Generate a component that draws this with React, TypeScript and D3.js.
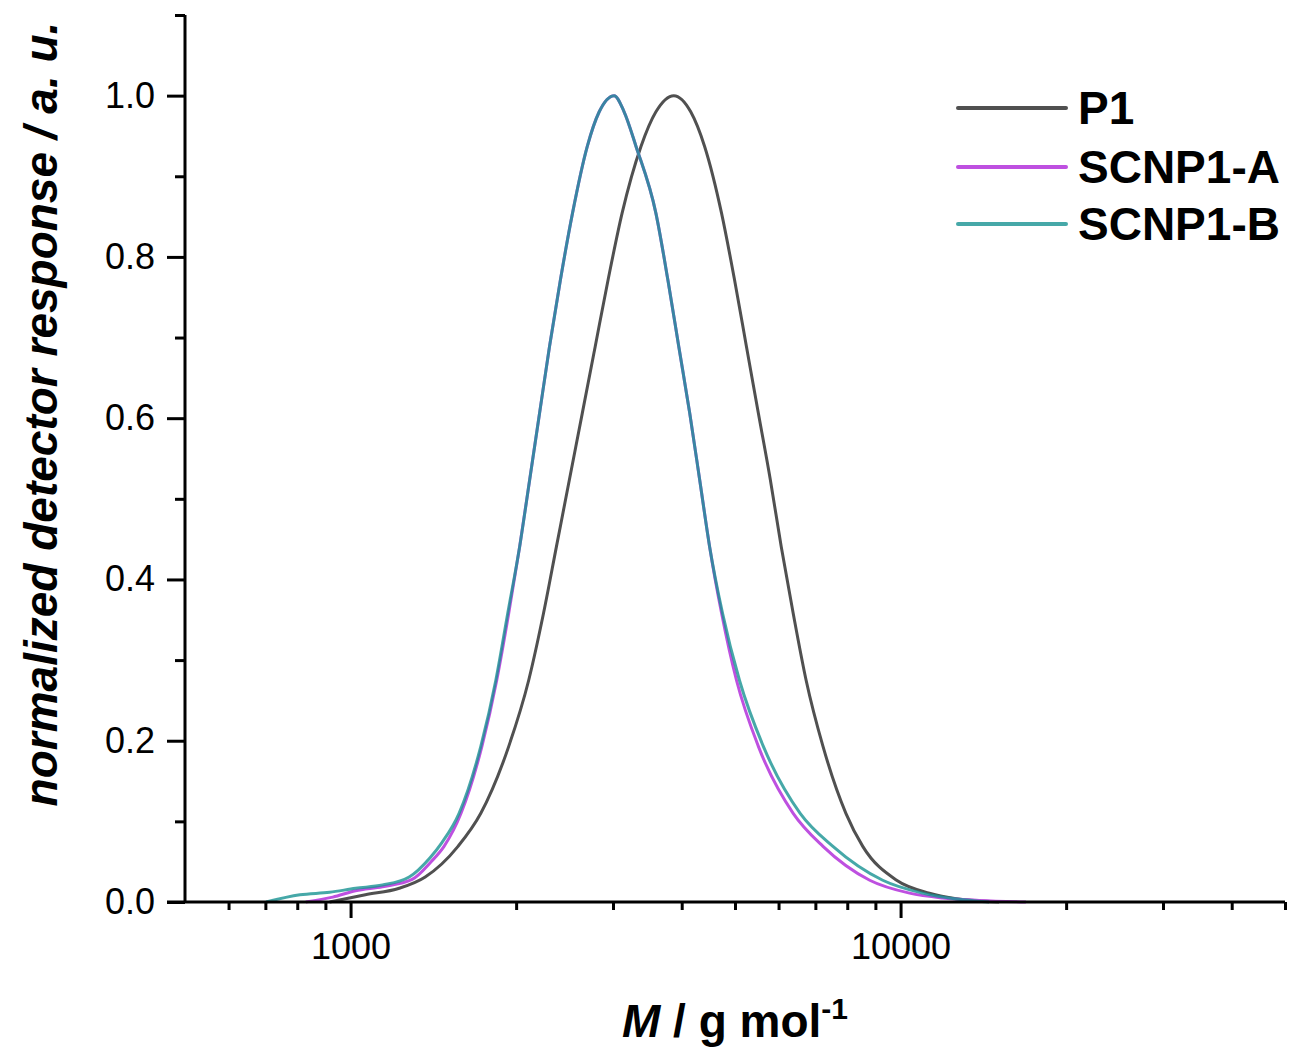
import React, { useEffect, useRef } from 'react';
import * as d3 from 'd3';

// molar mass (g/mol) and normalized detector response
const P1_M = [916, 1064, 1226, 1367, 1568, 1725, 1939, 2108, 2243, 2368, 2500, 2638, 2785, 2940, 3116, 3373, 3591, 3870, 4154, 4403, 4727, 4989, 5245, 5514, 5796, 6067, 6379, 6734, 7227, 7954, 8536, 9835, 11283, 12627, 15101];
const P1_Y = [0, 0.009, 0.017, 0.031, 0.069, 0.11, 0.193, 0.275, 0.358, 0.441, 0.524, 0.606, 0.689, 0.772, 0.854, 0.937, 0.98, 1.0, 0.98, 0.937, 0.854, 0.772, 0.689, 0.606, 0.524, 0.441, 0.358, 0.275, 0.193, 0.11, 0.069, 0.027, 0.011, 0.004, 0];

const A_M = [829, 928, 1021, 1143, 1294, 1401, 1479, 1588, 1733, 1844, 1939, 2030, 2117, 2206, 2300, 2408, 2532, 2694, 2832, 3015, 3143, 3304, 3591, 3774, 3951, 4137, 4312, 4495, 4727, 5031, 5514, 6379, 7227, 8788, 10382, 11910, 13895, 16900];
const A_Y = [0, 0.006, 0.014, 0.019, 0.028, 0.05, 0.069, 0.11, 0.193, 0.275, 0.358, 0.441, 0.524, 0.606, 0.689, 0.772, 0.854, 0.937, 0.98, 1.0, 0.98, 0.937, 0.854, 0.772, 0.689, 0.606, 0.524, 0.441, 0.358, 0.275, 0.193, 0.11, 0.069, 0.027, 0.011, 0.005, 0.002, 0];

const B_M = [702, 809, 916, 1021, 1143, 1278, 1395, 1467, 1575, 1725, 1837, 1931, 2030, 2117, 2206, 2300, 2408, 2532, 2694, 2832, 3015, 3143, 3304, 3591, 3774, 3951, 4137, 4312, 4495, 4746, 5094, 5630, 6568, 7534, 9279, 10960, 12522, 14486];
const B_Y = [0, 0.009, 0.012, 0.017, 0.021, 0.031, 0.055, 0.074, 0.11, 0.193, 0.275, 0.358, 0.441, 0.524, 0.606, 0.689, 0.772, 0.854, 0.937, 0.98, 1.0, 0.98, 0.937, 0.854, 0.772, 0.689, 0.606, 0.524, 0.441, 0.358, 0.275, 0.193, 0.11, 0.069, 0.027, 0.011, 0.004, 0];

const SERIES_NAMES = ['P1', 'SCNP1-A', 'SCNP1-B'];
const SERIES_COLORS = ['#505050', '#be50e0', '#189292'];
const SERIES_OPACITY = [1, 1, 0.8];

const X_MAJOR = [1000, 10000];
const X_MINOR = [600, 700, 800, 900, 2000, 3000, 4000, 5000, 6000, 7000, 8000, 9000, 20000, 30000, 40000, 50000];
const Y_MAJOR = [0, 0.2, 0.4, 0.6, 0.8, 1.0];
const Y_MINOR = [0.1, 0.3, 0.5, 0.7, 0.9, 1.1];

const FONT = '"Liberation Sans", Arial, sans-serif';

export default function App() {
  const svgRef = useRef<SVGSVGElement>(null);

  useEffect(() => {
    const W = 1291;
    const H = 1050;
    const margin = { top: 15, right: 6, bottom: 148, left: 185 };

    const svg = d3.select(svgRef.current);
    svg.selectAll('*').remove();

    const x = d3.scaleLog().domain([500, 50000]).range([margin.left, W - margin.right]);
    const y = d3.scaleLinear().domain([0, 1.1]).range([H - margin.bottom, margin.top]);

    const series = [
      { m: P1_M, v: P1_Y },
      { m: A_M, v: A_Y },
      { m: B_M, v: B_Y },
    ];

    const line = d3.line<[number, number]>()
      .x(d => x(d[0]))
      .y(d => y(d[1]))
      .curve(d3.curveMonotoneX);

    const plot = svg.append('g');
    series.forEach((s, i) => {
      const pts = s.m.map((m, j) => [m, s.v[j]] as [number, number]);
      plot.append('path')
        .datum(pts)
        .attr('d', line)
        .attr('fill', 'none')
        .attr('stroke', SERIES_COLORS[i])
        .attr('stroke-opacity', SERIES_OPACITY[i])
        .attr('stroke-width', 3)
        .attr('stroke-linejoin', 'round');
    });

    const y0 = y(0);

    // x axis
    const xMinor = svg.append('g').attr('transform', `translate(0, ${y0})`)
      .call(d3.axisBottom(x).tickValues(X_MINOR).tickSize(8).tickSizeOuter(0).tickFormat(() => ''));
    xMinor.select('.domain').remove();
    const xMajor = svg.append('g').attr('transform', `translate(0, ${y0})`)
      .call(d3.axisBottom(x).tickValues(X_MAJOR).tickSize(16).tickSizeOuter(0).tickPadding(15).tickFormat(d3.format('d')));

    // y axis
    const yMinor = svg.append('g').attr('transform', `translate(${margin.left}, 0)`)
      .call(d3.axisLeft(y).tickValues(Y_MINOR).tickSize(10).tickSizeOuter(0).tickFormat(() => ''));
    yMinor.select('.domain').remove();
    const yMajor = svg.append('g').attr('transform', `translate(${margin.left}, 0)`)
      .call(d3.axisLeft(y).tickValues(Y_MAJOR).tickSize(18).tickSizeOuter(0).tickPadding(12).tickFormat(d3.format('.1f')));

    [xMinor, xMajor, yMinor, yMajor].forEach(g => {
      g.selectAll('path, line').attr('stroke', '#000').attr('stroke-width', 3);
      g.selectAll('text').attr('font-family', FONT).attr('font-size', 36).attr('fill', '#000');
    });
    yMajor.select('.domain').attr('d', `M0,${y0}V${margin.top}`);
    xMajor.select('.domain').attr('d', `M${margin.left - 18},0H${W - margin.right}`);

    // axis titles
    svg.append('text')
      .attr('transform', `translate(57, 414) rotate(-90)`)
      .attr('text-anchor', 'middle')
      .attr('font-family', FONT)
      .attr('font-size', 46)
      .attr('font-weight', 'bold')
      .attr('font-style', 'italic')
      .text('normalized detector response / a. u.');

    const xt = svg.append('text')
      .attr('x', 735)
      .attr('y', 1037)
      .attr('text-anchor', 'middle')
      .attr('font-family', FONT)
      .attr('font-size', 46)
      .attr('font-weight', 'bold');
    xt.append('tspan').attr('font-style', 'italic').text('M');
    xt.append('tspan').text(' / g mol');
    xt.append('tspan').attr('font-size', 30).attr('dy', -18).text('-1');

    // legend
    const legend = svg.append('g');
    const legendY = [108, 167, 224];
    SERIES_NAMES.forEach((name, i) => {
      legend.append('line')
        .attr('x1', 958).attr('x2', 1066)
        .attr('y1', legendY[i]).attr('y2', legendY[i])
        .attr('stroke', SERIES_COLORS[i])
        .attr('stroke-opacity', SERIES_OPACITY[i])
        .attr('stroke-width', 4)
        .attr('stroke-linecap', 'round');
      legend.append('text')
        .attr('x', 1078)
        .attr('y', legendY[i] + 16)
        .attr('font-family', FONT)
        .attr('font-size', 46)
        .attr('font-weight', 'bold')
        .text(name);
    });
  }, []);

  return (
    <svg
      ref={svgRef}
      width={1291}
      height={1050}
      style={{ position: 'absolute', left: 0, top: 0, background: '#fff', display: 'block' }}
    />
  );
}
